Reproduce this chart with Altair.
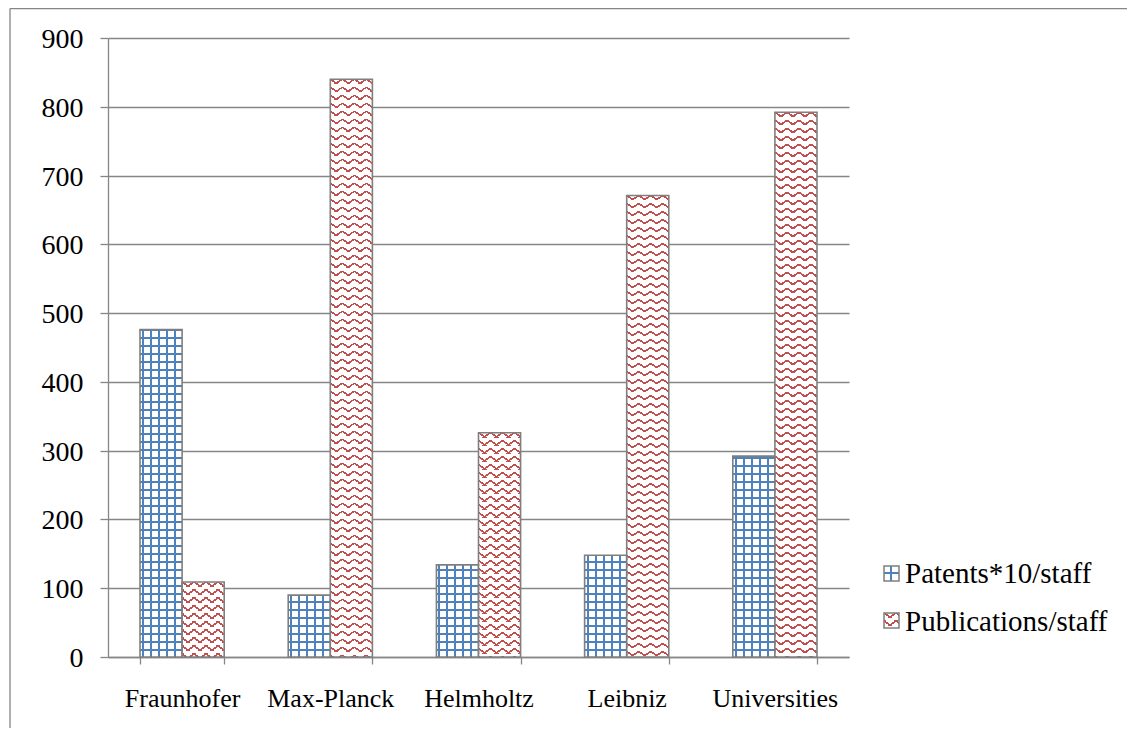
import math
import altair as alt

# ---- data ----
INSTITUTIONS = ["Fraunhofer", "Max-Planck", "Helmholtz", "Leibniz", "Universities"]
SERIES = ["Patents*10/staff", "Publications/staff"]
PATENTS = [476, 90, 134, 148, 292]
PUBLICATIONS = [109, 840, 326, 671, 792]

# ---- layout ----
PLOT_W, PLOT_H = 741, 619
Y_MAX = 900
PAD_IN, PAD_OUT = 0.432, 0.216
STEP = PLOT_W / (len(INSTITUTIONS) - PAD_IN + 2 * PAD_OUT)
BAR_W = STEP * (1 - PAD_IN) / 2

BLUE = "#4f81bd"
RED = "#c0504d"
WHITE = "#ffffff"
CLEAR = "rgba(255,255,255,0)"
GRAY = "#868686"
BORDER = "#7f7f7f"
FONT = "Liberation Serif"


def stripe_gradient(w, h, ax, ay, period, lw, phase, color, bg):
    """Linear-gradient fill (bounding-box units) drawing parallel stripes
    where (ax*X + ay*Y - phase) mod period lies in [0, lw*|(ax,ay)|]."""
    corners = [(0, 0), (w, 0), (0, h), (w, h)]
    vals = [(ax * X + ay * Y, X, Y) for X, Y in corners]
    lmin, x0, y0 = min(vals)
    lmax = max(v[0] for v in vals)
    a = (lmax - lmin) / (ax * ax * w * w + ay * ay * h * h)
    u1, v1 = x0 / w, y0 / h
    span = lmax - lmin
    lwl = lw * math.hypot(ax, ay)
    k = math.floor((lmin - phase) / period) - 1
    stops = [{"offset": 0, "color": bg}]
    while True:
        s = phase + k * period
        if s > lmax:
            break
        e = s + lwl
        if e > lmin:
            a0 = round(min(max((s - lmin) / span, 0), 1), 5)
            a1 = round(min(max((e - lmin) / span, 0), 1), 5)
            stops += [{"offset": a0, "color": bg}, {"offset": a0, "color": color},
                      {"offset": a1, "color": color}, {"offset": a1, "color": bg}]
        k += 1
    stops.append({"offset": 1, "color": bg})
    return {"gradient": "linear", "x1": round(u1, 6), "y1": round(v1, 6),
            "x2": round(u1 + a * ax * w, 6), "y2": round(v1 + a * ay * h, 6),
            "stops": stops}


def grid_fills(w, h):
    vert = stripe_gradient(w, h, 1, 0, 8, 2.0, 2, BLUE, WHITE)
    horiz = stripe_gradient(w, h, 0, -1, 8, 2.0, -h + 6, BLUE, CLEAR)
    return vert, horiz, CLEAR


def zigzag_fills(w, h):
    down = stripe_gradient(w, h, 4, -6, 48, 1.6, -5.8, RED, WHITE)
    up = stripe_gradient(w, h, 4, 6, 48, 1.6, -5.8, RED, CLEAR)
    mask = stripe_gradient(w, h, 0, 1, 8, 2.6, 4.8, WHITE, CLEAR)
    return down, up, mask


records = []
for inst, p, q in zip(INSTITUTIONS, PATENTS, PUBLICATIONS):
    fa, fb, fc = grid_fills(BAR_W, p * PLOT_H / Y_MAX)
    records.append({"institution": inst, "series": SERIES[0], "value": p,
                    "fillA": fa, "fillB": fb, "fillC": fc})
    fa, fb, fc = zigzag_fills(BAR_W, q * PLOT_H / Y_MAX)
    records.append({"institution": inst, "series": SERIES[1], "value": q,
                    "fillA": fa, "fillB": fb, "fillC": fc})

data = alt.Data(values=records)

x_enc = alt.X(
    "institution:N", sort=INSTITUTIONS, title=None,
    scale=alt.Scale(paddingInner=PAD_IN, paddingOuter=PAD_OUT),
    axis=alt.Axis(labelAngle=0, labelFont=FONT, labelFontSize=26, labelColor="black",
                  labelPadding=21, tickSize=7, tickColor=GRAY, tickWidth=1.3,
                  tickBand="extent", domainColor=GRAY, domainWidth=1.3, grid=False),
)
y_enc = alt.Y(
    "value:Q", stack=None, title=None,
    scale=alt.Scale(domain=[0, Y_MAX], nice=False),
    axis=alt.Axis(values=list(range(0, Y_MAX + 1, 100)), labelFont=FONT, labelFontSize=28,
                  labelColor="black", labelPadding=17, labelOffset=1.5, tickSize=8,
                  tickColor=GRAY, tickWidth=1.3, domainColor=GRAY, domainWidth=1.3,
                  grid=True, gridColor=GRAY, gridWidth=1.3),
)
xo_enc = alt.XOffset("series:N", sort=SERIES, scale=alt.Scale(paddingInner=0, paddingOuter=0))


def bar_layer(field, **mark_kw):
    return alt.Chart(data).mark_bar(**mark_kw).encode(
        x=x_enc, y=y_enc, xOffset=xo_enc,
        fill=alt.Fill(f"{field}:N", scale=None, legend=None),
    )


bars = [bar_layer("fillA"), bar_layer("fillB"),
        bar_layer("fillC", stroke=BORDER, strokeWidth=1.6)]

one = alt.Data(values=[{"k": 1}])

# outer frame (left and top edges visible in the reference)
frame_left = alt.Chart(one).mark_rule(color=GRAY, strokeWidth=1.3).encode(
    x=alt.value(-98), y=alt.value(-29.5), y2=alt.value(700))
frame_top = alt.Chart(one).mark_rule(color=GRAY, strokeWidth=1.3).encode(
    x=alt.value(-98), x2=alt.value(1030), y=alt.value(-29.5))

# legend
legend_layers = []
sym_fills = [
    (stripe_gradient(15, 15, 1, 0, 100, 1.9, 6.5, BLUE, WHITE),
     stripe_gradient(15, 15, 0, 1, 100, 1.9, 6.5, BLUE, CLEAR), CLEAR),
    zigzag_fills(15, 15),
]
for i, name in enumerate(SERIES):
    top = 528 + 47 * i
    fills = sym_fills[i]
    for j, f in enumerate(fills):
        kw = {"stroke": BORDER, "strokeWidth": 1.5} if j == 2 else {}
        legend_layers.append(alt.Chart(one).mark_rect(fill=f, **kw).encode(
            x=alt.value(776), x2=alt.value(791), y=alt.value(top), y2=alt.value(top + 15)))
    legend_layers.append(alt.Chart(one).mark_text(
        align="left", baseline="alphabetic", font=FONT, fontSize=29, color="black").encode(
        x=alt.value(797), y=alt.value(545 + 48 * i), text=alt.value(name)))

chart = alt.layer(frame_left, frame_top, *bars, *legend_layers).properties(
    width=PLOT_W, height=PLOT_H,
    autosize=alt.AutoSizeParams(type="none"),
    padding={"left": 100, "top": 30, "right": 278, "bottom": 71},
    background="white",
).configure_view(strokeWidth=0)

chart.save("out.html", embed_options={"renderer": "svg", "actions": False})
